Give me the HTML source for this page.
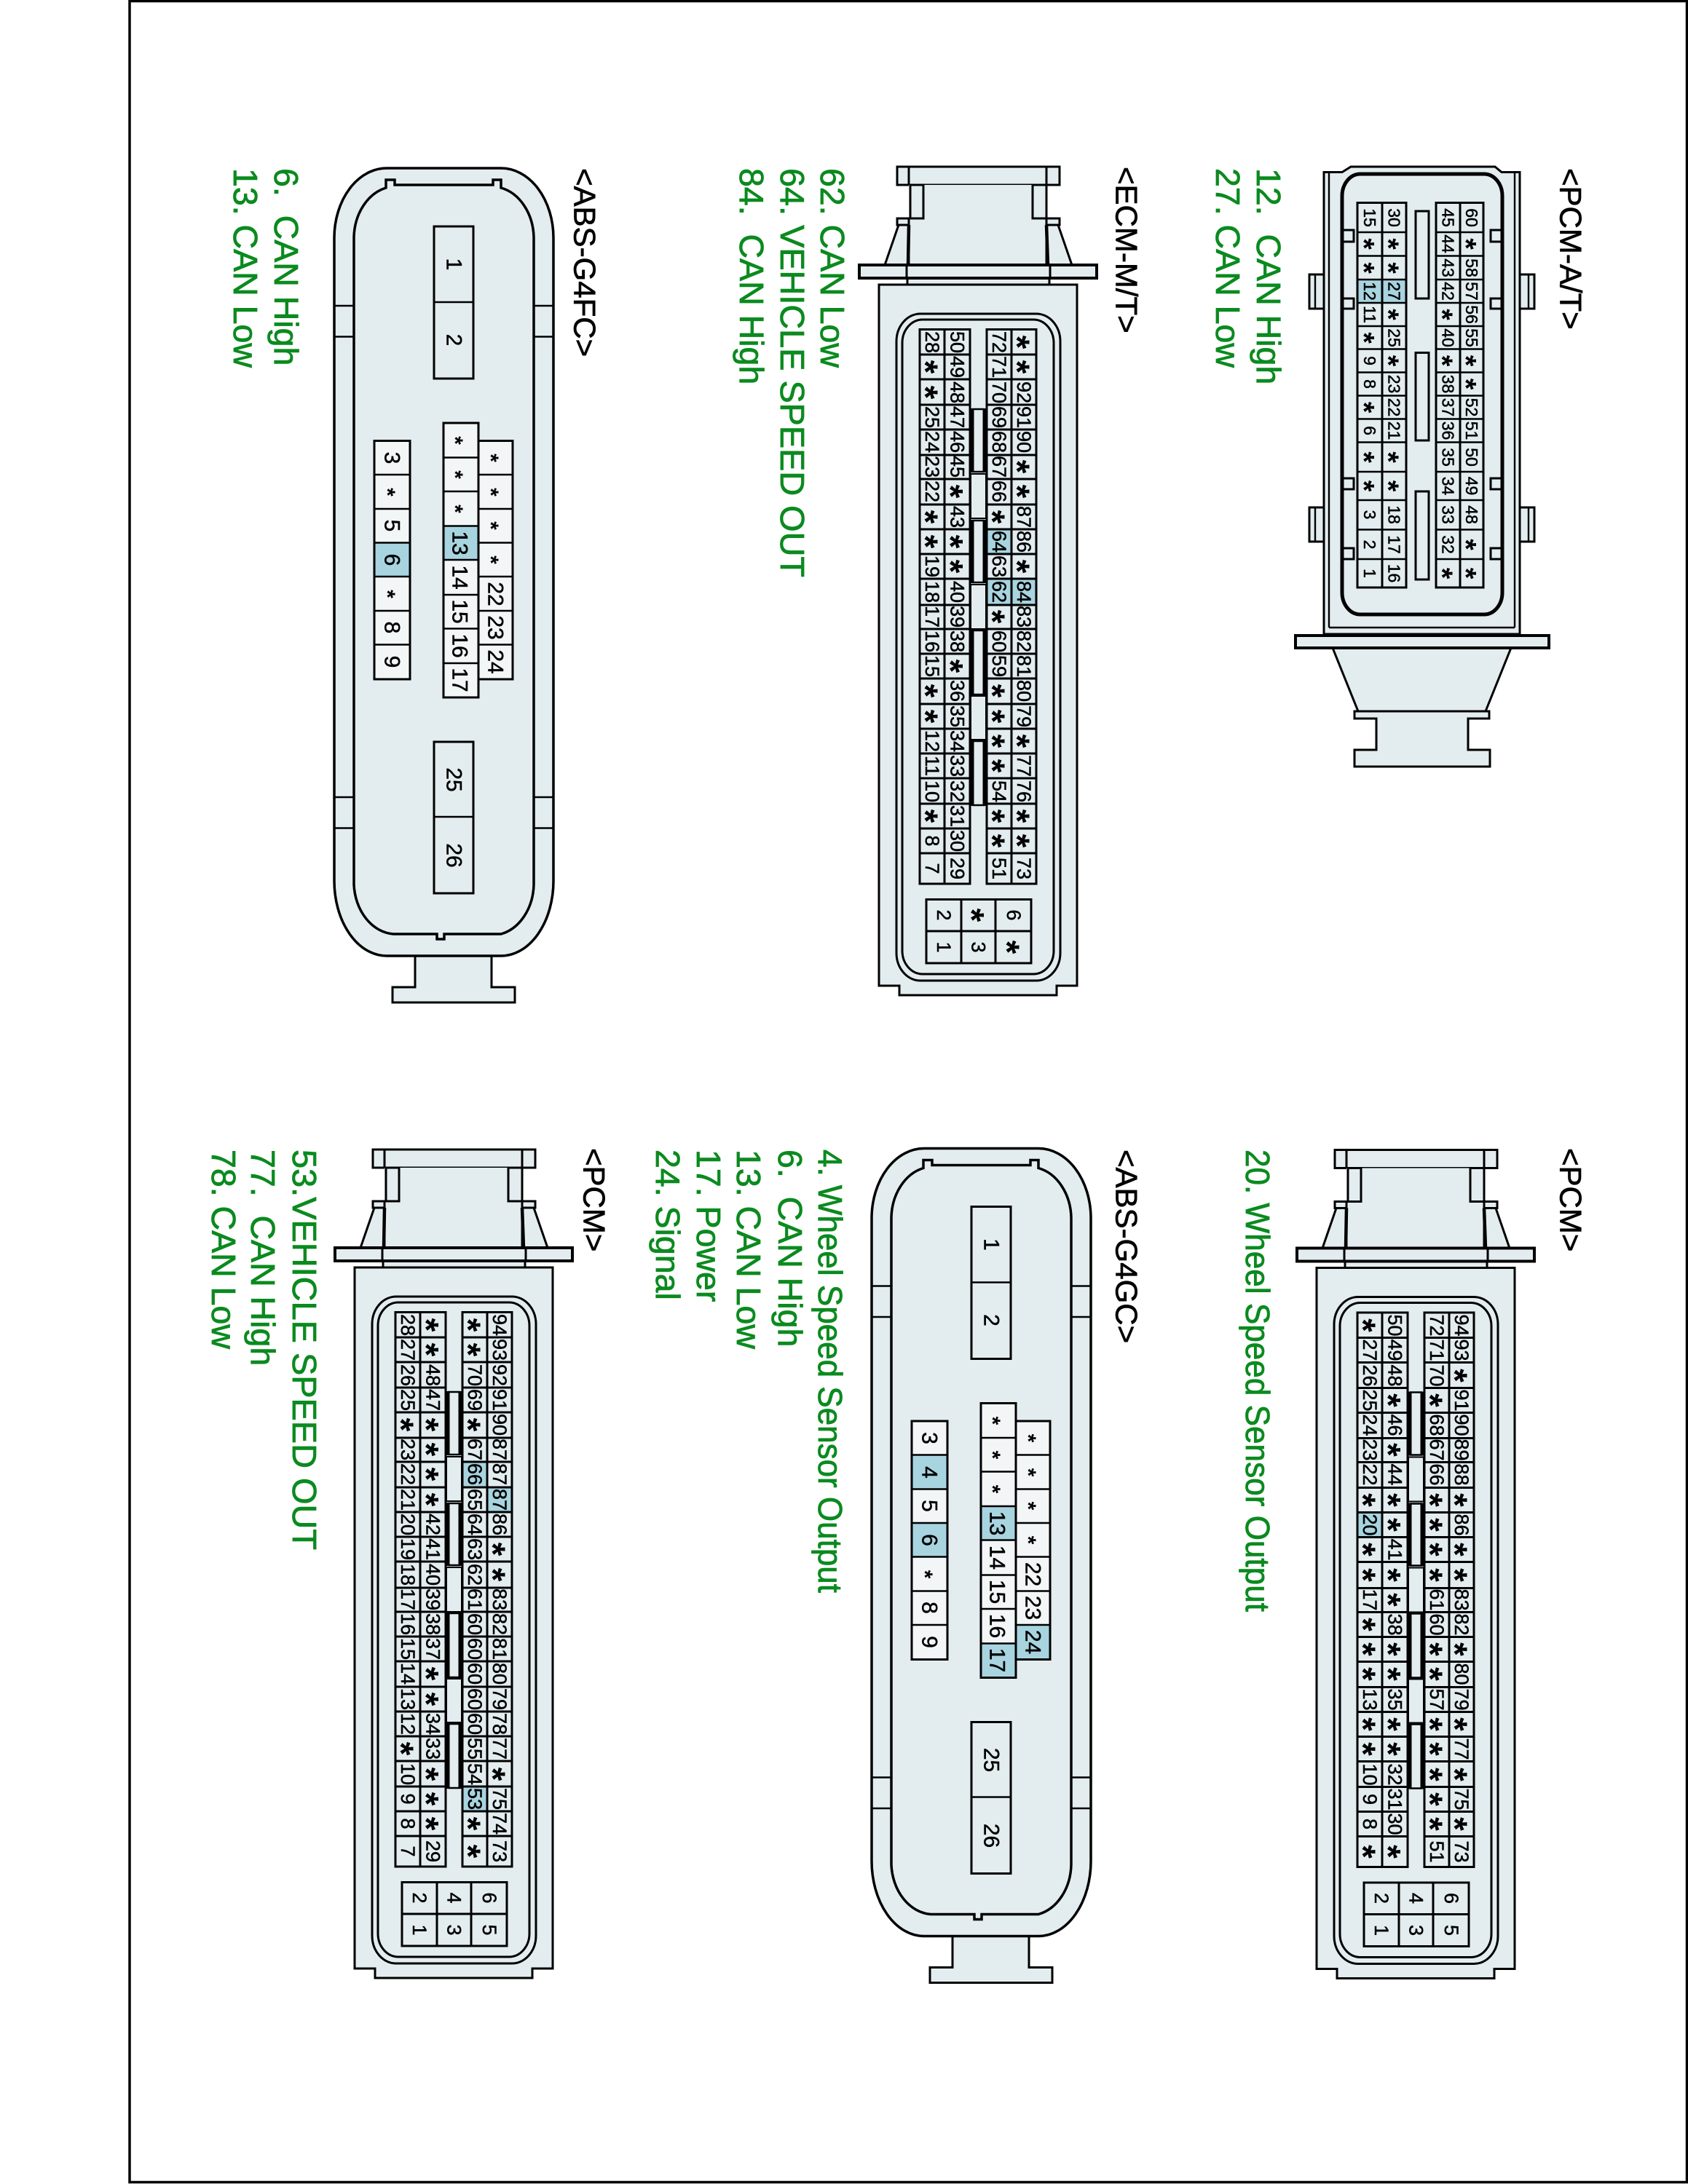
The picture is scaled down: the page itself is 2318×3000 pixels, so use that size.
<!DOCTYPE html>
<html><head><meta charset="utf-8"><title>Connector diagram</title>
<style>
html,body{margin:0;padding:0;background:#fff}
svg{display:block}
text{font-family:"Liberation Sans",sans-serif;text-anchor:middle;dominant-baseline:central;fill:#000;stroke:#000;stroke-width:.5}
.s{font-weight:bold;transform:translateY(.21em);stroke-width:0}
.a{font-size:23px}.a .s{font-size:40px}
.e{font-size:27px}.e .s{font-size:48px}
.b{font-size:30px}.b .s{font-size:30px}
text.L{font-size:46.5px;text-anchor:start;fill:#0b8a1f;stroke:#0b8a1f;stroke-width:.8;white-space:pre}
text.H{font-size:42px;text-anchor:start;fill:#000;stroke-width:.7}
.f{fill:#e3edf0;stroke:#000;stroke-width:3}
.n{fill:none;stroke:#000;stroke-width:3}
.t{fill:none;stroke:#000;stroke-width:2.4}
.k{fill:none;stroke:#000;stroke-width:5}
.h{fill:#a8d4e0}
.w{fill:#f3f6f6;stroke:#000;stroke-width:3}
</style></head><body>
<svg xmlns="http://www.w3.org/2000/svg" width="2318" height="3000" viewBox="0 0 2318 3000">
<defs>
<g id="eb">
<rect class="f" x="1232" y="229" width="223" height="25"/>
<rect x="1248" y="254" width="189" height="110" fill="#e3edf0"/>
<path class="n" d="M1248 229V254M1437 229V254"/>
<rect class="f" x="1250" y="254" width="18" height="46"/>
<rect class="f" x="1418" y="254" width="19" height="46"/>
<rect class="f" x="1232" y="300" width="16" height="9"/>
<rect class="f" x="1437" y="300" width="18" height="9"/>
<path class="f" d="M1234 309L1215 364H1248V309Z"/>
<path class="f" d="M1453 309L1472 364H1437V309Z"/>
<path class="n" style="stroke-width:4.5" d="M1248 309L1247 364M1437 309L1439 364"/>
<rect class="f" x="1246" y="382" width="195" height="10"/>
<rect class="f" x="1180" y="364" width="326" height="18" style="stroke-width:4"/>
<path class="n" d="M1245 364V382M1442 364V382"/>
<path class="f" d="M1207 391H1479V1354H1451V1367H1235V1354H1207Z"/>
<rect class="n" x="1231" y="431" width="225" height="916" rx="33" ry="38"/>
<rect class="n" x="1239" y="439" width="208" height="899" rx="28" ry="32"/>
</g>
<g id="eg">
<rect class="n" x="1263" y="452.5" width="69" height="761.5"/>
<rect class="n" x="1355" y="452.5" width="68" height="761.5"/>
<path class="n" d="M1297 452V1214M1389 452V1214M1263 487H1332M1355 487H1423M1263 521H1332M1355 521H1423M1263 556H1332M1355 556H1423M1263 590H1332M1355 590H1423M1263 625H1332M1355 625H1423M1263 658H1332M1355 658H1423M1263 693H1332M1355 693H1423M1263 727H1332M1355 727H1423M1263 761H1332M1355 761H1423M1263 795H1332M1355 795H1423M1263 831H1332M1355 831H1423M1263 864H1332M1355 864H1423M1263 898H1332M1355 898H1423M1263 932H1332M1355 932H1423M1263 967H1332M1355 967H1423M1263 1001H1332M1355 1001H1423M1263 1035H1332M1355 1035H1423M1263 1069H1332M1355 1069H1423M1263 1104H1332M1355 1104H1423M1263 1138H1332M1355 1138H1423M1263 1172H1332M1355 1172H1423"/>
<path class="t" fill="#e3edf0" d="M1335 562H1352M1335 648H1352M1335 715H1352M1335 800H1352M1335 866H1352M1335 954H1352M1335 1018H1352M1335 1106H1352"/>
<path class="k" d="M1335 561V649M1352 561V649M1335 714V801M1352 714V801M1335 865V955M1352 865V955M1335 1017V1107M1352 1017V1107"/>
<rect x="1333" y="651" width="21" height="61" fill="#e3edf0" stroke="#000" stroke-width="2"/>
<rect x="1333" y="803" width="21" height="61" fill="#e3edf0" stroke="#000" stroke-width="2"/>
<rect x="1333" y="956" width="21" height="60" fill="#e3edf0" stroke="#000" stroke-width="2"/>
<rect class="n" x="1272" y="1235.5" width="144" height="87.5"/>
<path class="n" d="M1320 1235V1323M1367 1235V1323M1272 1279H1416"/>
</g>
<g id="ab">
<path class="f" d="M570 1310H675V1356H707V1377H539V1356H570Z"/>
<path class="f" style="stroke-width:3.5" d="M459 326A72 96 0 0 1 531 231H688A72 96 0 0 1 760 326V1210A72 103 0 0 1 688 1313H531A72 103 0 0 1 459 1210Z"/>
<path class="n" style="stroke-width:3.5" d="M486 326A58 72 0 0 1 530 258V247H542V254H677V247H688V258A58 72 0 0 1 733 326V1215A58 72 0 0 1 688 1283H610V1290H602H600V1283H540A58 72 0 0 1 486 1215Z"/>
<path class="t" d="M459 420H486M459 462.5H486M459 1095H486M459 1137.5H486M733 420H760M733 462.5H760M733 1095H760M733 1137.5H760"/>
<rect class="f" x="596" y="311" width="54" height="209"/>
<path class="t" d="M596 415H650"/>
<rect class="f" x="596" y="1019" width="54" height="208"/>
<path class="t" d="M596 1122H650"/>
<rect class="w" x="514" y="605.5" width="49" height="327.5"/>
<rect class="w" x="609" y="581" width="48" height="377"/>
<rect class="w" x="657" y="605.5" width="47" height="327.5"/>
</g>
<g id="al">
<path class="n" d="M514 605.5V933H563V605.5H514ZM609 581V958H657V581H609ZM657 605.5H704V933H657"/>
<path class="t" d="M514 652H563M514 699H563M514 745.5H563M514 792H563M514 839H563M514 885.5H563M609 628.5H657M609 675H657M609 722.5H657M609 769H657M609 817H657M609 863.5H657M609 911H657M657 652H704M657 699H704M657 745.5H704M657 792H704M657 839H704M657 885.5H704"/>
</g>
<g id="ax" class="b">
<g transform="translate(623 0) rotate(90)"><text x="363">1</text><text x="467">2</text><text x="1071">25</text><text x="1175">26</text></g>
<g transform="translate(631 0) rotate(90)"><text x="605" class="s">*</text><text x="652" class="s">*</text><text x="699" class="s">*</text><text x="746">13</text><text x="793">14</text><text x="840">15</text><text x="887">16</text><text x="934">17</text></g>
<g transform="translate(680 0) rotate(90)"><text x="629" class="s">*</text><text x="676" class="s">*</text><text x="722" class="s">*</text><text x="769" class="s">*</text><text x="816">22</text><text x="862">23</text><text x="909">24</text></g>
</g>
</defs>

<rect x="178" y="1.5" width="2138.5" height="2996" fill="#fff" stroke="#000" stroke-width="3.5"/>

<!-- PCM-A/T -->
<path class="f" d="M1830 890H2075L2040 977H1865Z"/>
<path class="f" d="M1860 977H2045V987H2016V1030H2046V1053H1860V1030H1890V987H1860Z"/>
<rect class="f" x="1798" y="377" width="27" height="47"/><rect class="f" x="1798" y="697" width="27" height="47"/>
<rect class="f" x="2082" y="377" width="25" height="47"/><rect class="f" x="2082" y="697" width="25" height="47"/>
<path class="t" d="M1806 377V424M1806 697V744M2099 377V424M2099 697V744"/>
<path class="f" d="M1818 236.5H1843L1855 229H2053L2062 236.5H2087V871H1818Z"/>
<path class="t" d="M1825 238V862M2080 238V862M1825 862H2080"/>
<rect class="f" x="1779" y="873" width="348" height="17" style="stroke-width:4"/>
<rect class="n" style="stroke-width:5" x="1843" y="239" width="220" height="605" rx="25" ry="30"/>
<g class="f"><rect x="1844" y="316" width="15" height="16"/><rect x="1844" y="410" width="15" height="14"/><rect x="1844" y="657" width="15" height="15"/><rect x="1844" y="753" width="15" height="15"/><rect x="2047" y="316" width="15" height="16"/><rect x="2047" y="410" width="15" height="14"/><rect x="2047" y="657" width="15" height="15"/><rect x="2047" y="753" width="15" height="15"/></g>
<g class="f"><rect x="1944" y="290" width="18" height="120"/><rect x="1944" y="484.5" width="18" height="120.5"/><rect x="1944" y="675" width="18" height="121"/></g>
<rect class="h" x="1864" y="384" width="67" height="32"/>
<path class="n" d="M1864 278.5H1931V807H1864ZM1972 278.5H2037V807H1972ZM1898 278V807M2005 278V807"/>
<path class="t" d="M1864 319H1931M1972 319H2037M1864 351.5H1931M1972 351.5H2037M1864 384H1931M1972 384H2037M1864 416H1931M1972 416H2037M1864 448H1931M1972 448H2037M1864 479.5H1931M1972 479.5H2037M1864 511.5H1931M1972 511.5H2037M1864 543.5H1931M1972 543.5H2037M1864 575.5H1931M1972 575.5H2037M1864 607.5H1931M1972 607.5H2037M1864 648H1931M1972 648H2037M1864 687H1931M1972 687H2037M1864 727.5H1931M1972 727.5H2037M1864 768H1931M1972 768H2037"/>
<g class="a">
<g transform="translate(2021 0) rotate(90)"><text x="299">60</text><text x="335" class="s">*</text><text x="368">58</text><text x="400">57</text><text x="432">56</text><text x="464">55</text><text x="495.5" class="s">*</text><text x="527.5" class="s">*</text><text x="559.5">52</text><text x="591.5">51</text><text x="628">50</text><text x="667.5">49</text><text x="707">48</text><text x="748" class="s">*</text><text x="787.5" class="s">*</text></g>
<g transform="translate(1988.5 0) rotate(90)"><text x="299">45</text><text x="335">44</text><text x="368">43</text><text x="400">42</text><text x="432" class="s">*</text><text x="464">40</text><text x="495.5" class="s">*</text><text x="527.5">38</text><text x="559.5">37</text><text x="591.5">36</text><text x="628">35</text><text x="667.5">34</text><text x="707">33</text><text x="748">32</text><text x="787.5" class="s">*</text></g>
<g transform="translate(1914.5 0) rotate(90)"><text x="299">30</text><text x="335" class="s">*</text><text x="368" class="s">*</text><text x="400">27</text><text x="432" class="s">*</text><text x="464">25</text><text x="495.5" class="s">*</text><text x="527.5">23</text><text x="559.5">22</text><text x="591.5">21</text><text x="628" class="s">*</text><text x="667.5" class="s">*</text><text x="707">18</text><text x="748">17</text><text x="787.5">16</text></g>
<g transform="translate(1881 0) rotate(90)"><text x="299">15</text><text x="335" class="s">*</text><text x="368" class="s">*</text><text x="400">12</text><text x="432">11</text><text x="464" class="s">*</text><text x="495.5">9</text><text x="527.5">8</text><text x="559.5" class="s">*</text><text x="591.5">6</text><text x="628" class="s">*</text><text x="667.5" class="s">*</text><text x="707">3</text><text x="748">2</text><text x="787.5">1</text></g>
</g>
<text class="H" transform="translate(2157 231) rotate(90)">&lt;PCM-A/T&gt;</text>
<text class="L" transform="translate(1742 231) rotate(90)">12.  CAN High</text>
<text class="L" transform="translate(1686 231) rotate(90)">27. CAN Low</text>

<!-- ECM-M/T -->
<use href="#eb"/>
<rect class="h" x="1355" y="727" width="34" height="34"/><rect class="h" x="1355" y="795" width="34" height="36"/><rect class="h" x="1389" y="795" width="34" height="36"/>
<use href="#eg"/>
<g class="e">
<g transform="translate(1406 0) rotate(90)"><text x="470" class="s">*</text><text x="504" class="s">*</text><text x="539">92</text><text x="573">91</text><text x="607">90</text><text x="641" class="s">*</text><text x="675" class="s">*</text><text x="710">87</text><text x="744">86</text><text x="778" class="s">*</text><text x="813">84</text><text x="847">83</text><text x="881">82</text><text x="915">81</text><text x="949">80</text><text x="984">79</text><text x="1018" class="s">*</text><text x="1052">77</text><text x="1087">76</text><text x="1121" class="s">*</text><text x="1155" class="s">*</text><text x="1193">73</text></g>
<g transform="translate(1372 0) rotate(90)"><text x="470">72</text><text x="504">71</text><text x="539">70</text><text x="573">69</text><text x="607">68</text><text x="641">67</text><text x="675">66</text><text x="710" class="s">*</text><text x="744">64</text><text x="778">63</text><text x="813">62</text><text x="847" class="s">*</text><text x="881">60</text><text x="915">59</text><text x="949" class="s">*</text><text x="984" class="s">*</text><text x="1018" class="s">*</text><text x="1052" class="s">*</text><text x="1087">54</text><text x="1121" class="s">*</text><text x="1155" class="s">*</text><text x="1193">51</text></g>
<g transform="translate(1314.5 0) rotate(90)"><text x="470">50</text><text x="504">49</text><text x="539">48</text><text x="573">47</text><text x="607">46</text><text x="641">45</text><text x="675" class="s">*</text><text x="710">43</text><text x="744" class="s">*</text><text x="778" class="s">*</text><text x="813">40</text><text x="847">39</text><text x="881">38</text><text x="915" class="s">*</text><text x="949">36</text><text x="984">35</text><text x="1018">34</text><text x="1052">33</text><text x="1087">32</text><text x="1121">31</text><text x="1155">30</text><text x="1193">29</text></g>
<g transform="translate(1280 0) rotate(90)"><text x="470">28</text><text x="504" class="s">*</text><text x="539" class="s">*</text><text x="573">25</text><text x="607">24</text><text x="641">23</text><text x="675">22</text><text x="710" class="s">*</text><text x="744" class="s">*</text><text x="778">19</text><text x="813">18</text><text x="847">17</text><text x="881">16</text><text x="915">15</text><text x="949" class="s">*</text><text x="984" class="s">*</text><text x="1018">12</text><text x="1052">11</text><text x="1087">10</text><text x="1121" class="s">*</text><text x="1155">8</text><text x="1193">7</text></g>
<g transform="translate(1296 0) rotate(90)"><text x="1257">2</text><text x="1301">1</text></g>
<g transform="translate(1343.5 0) rotate(90)"><text x="1257" class="s">*</text><text x="1301">3</text></g>
<g transform="translate(1392 0) rotate(90)"><text x="1257">6</text><text x="1301" class="s">*</text></g>
</g>
<text class="H" transform="translate(1547 229) rotate(90)">&lt;ECM-M/T&gt;</text>
<text class="L" transform="translate(1143 231) rotate(90)">62. CAN Low</text>
<text class="L" transform="translate(1088 231) rotate(90)" textLength="562" lengthAdjust="spacingAndGlyphs">64. VEHICLE SPEED OUT</text>
<text class="L" transform="translate(1032 231) rotate(90)">84.  CAN High</text>

<!-- ABS-G4FC -->
<use href="#ab"/>
<rect class="h" x="514" y="745.5" width="49" height="46.5"/><rect class="h" x="609" y="722.5" width="48" height="46.5"/>
<use href="#al"/>
<use href="#ax"/>
<g class="b" transform="translate(538 0) rotate(90)"><text x="629">3</text><text x="676" class="s">*</text><text x="722">5</text><text x="769">6</text><text x="816" class="s">*</text><text x="862">8</text><text x="909">9</text></g>
<text class="H" transform="translate(803 231) rotate(90)">&lt;ABS-G4FC&gt;</text>
<text class="L" transform="translate(393 231) rotate(90)">6.  CAN High</text>
<text class="L" transform="translate(337 231) rotate(90)">13. CAN Low</text>

<!-- PCM right -->
<g transform="translate(601 1350.5)">
<use href="#eb"/>
<rect class="h" x="1263" y="727" width="34" height="34"/>
<use href="#eg"/>
<g class="e">
<g transform="translate(1406 0) rotate(90)"><text x="470">94</text><text x="504">93</text><text x="539" class="s">*</text><text x="573">91</text><text x="607">90</text><text x="641">89</text><text x="675">88</text><text x="710" class="s">*</text><text x="744">86</text><text x="778" class="s">*</text><text x="813" class="s">*</text><text x="847">83</text><text x="881">82</text><text x="915" class="s">*</text><text x="949">80</text><text x="984">79</text><text x="1018" class="s">*</text><text x="1052">77</text><text x="1087" class="s">*</text><text x="1121">75</text><text x="1155" class="s">*</text><text x="1193">73</text></g>
<g transform="translate(1372 0) rotate(90)"><text x="470">72</text><text x="504">71</text><text x="539">70</text><text x="573" class="s">*</text><text x="607">68</text><text x="641">67</text><text x="675">66</text><text x="710" class="s">*</text><text x="744" class="s">*</text><text x="778" class="s">*</text><text x="813" class="s">*</text><text x="847">61</text><text x="881">60</text><text x="915" class="s">*</text><text x="949" class="s">*</text><text x="984">57</text><text x="1018" class="s">*</text><text x="1052" class="s">*</text><text x="1087" class="s">*</text><text x="1121" class="s">*</text><text x="1155" class="s">*</text><text x="1193">51</text></g>
<g transform="translate(1314.5 0) rotate(90)"><text x="470">50</text><text x="504">49</text><text x="539">48</text><text x="573" class="s">*</text><text x="607">46</text><text x="641" class="s">*</text><text x="675">44</text><text x="710" class="s">*</text><text x="744" class="s">*</text><text x="778">41</text><text x="813" class="s">*</text><text x="847" class="s">*</text><text x="881">38</text><text x="915" class="s">*</text><text x="949" class="s">*</text><text x="984">35</text><text x="1018" class="s">*</text><text x="1052" class="s">*</text><text x="1087">32</text><text x="1121">31</text><text x="1155">30</text><text x="1193" class="s">*</text></g>
<g transform="translate(1280 0) rotate(90)"><text x="470" class="s">*</text><text x="504">27</text><text x="539">26</text><text x="573">25</text><text x="607">24</text><text x="641">23</text><text x="675">22</text><text x="710" class="s">*</text><text x="744">20</text><text x="778" class="s">*</text><text x="813" class="s">*</text><text x="847">17</text><text x="881" class="s">*</text><text x="915" class="s">*</text><text x="949" class="s">*</text><text x="984">13</text><text x="1018" class="s">*</text><text x="1052" class="s">*</text><text x="1087">10</text><text x="1121">9</text><text x="1155">8</text><text x="1193" class="s">*</text></g>
<g transform="translate(1296 0) rotate(90)"><text x="1257">2</text><text x="1301">1</text></g>
<g transform="translate(1343.5 0) rotate(90)"><text x="1257">4</text><text x="1301">3</text></g>
<g transform="translate(1392 0) rotate(90)"><text x="1257">6</text><text x="1301">5</text></g>
</g>
</g>
<text class="H" transform="translate(2157 1577) rotate(90)">&lt;PCM&gt;</text>
<text class="L" transform="translate(1727 1579) rotate(90)" textLength="635" lengthAdjust="spacingAndGlyphs">20. Wheel Speed Sensor Output</text>

<!-- ABS-G4GC -->
<g transform="translate(738 1346.5)">
<use href="#ab"/>
<rect class="h" x="514" y="652" width="49" height="47"/><rect class="h" x="514" y="745.5" width="49" height="46.5"/><rect class="h" x="609" y="722.5" width="48" height="46.5"/><rect class="h" x="609" y="911" width="48" height="47"/><rect class="h" x="657" y="885.5" width="47" height="47.5"/>
<use href="#al"/>
<use href="#ax"/>
<g class="b" transform="translate(538 0) rotate(90)"><text x="629">3</text><text x="676">4</text><text x="722">5</text><text x="769">6</text><text x="816" class="s">*</text><text x="862">8</text><text x="909">9</text></g>
</g>
<text class="H" transform="translate(1547 1579) rotate(90)">&lt;ABS-G4GC&gt;</text>
<text class="L" transform="translate(1140 1579) rotate(90)" textLength="609" lengthAdjust="spacingAndGlyphs">4. Wheel Speed Sensor Output</text>
<text class="L" transform="translate(1085 1579) rotate(90)">6.  CAN High</text>
<text class="L" transform="translate(1028 1579) rotate(90)">13. CAN Low</text>
<text class="L" transform="translate(973 1579) rotate(90)">17. Power</text>
<text class="L" transform="translate(917 1579) rotate(90)">24. Signal</text>

<!-- PCM left -->
<g transform="translate(-720 1350)">
<use href="#eb"/>
<rect class="h" x="1355" y="658" width="34" height="35"/><rect class="h" x="1389" y="693" width="34" height="34"/><rect class="h" x="1355" y="1104" width="34" height="34"/>
<use href="#eg"/>
<g class="e">
<g transform="translate(1406 0) rotate(90)"><text x="470">94</text><text x="504">93</text><text x="539">92</text><text x="573">91</text><text x="607">90</text><text x="641">87</text><text x="675">87</text><text x="710">87</text><text x="744">86</text><text x="778" class="s">*</text><text x="813" class="s">*</text><text x="847">83</text><text x="881">82</text><text x="915">81</text><text x="949">80</text><text x="984">79</text><text x="1018">78</text><text x="1052">77</text><text x="1087" class="s">*</text><text x="1121">75</text><text x="1155">74</text><text x="1193">73</text></g>
<g transform="translate(1372 0) rotate(90)"><text x="470" class="s">*</text><text x="504" class="s">*</text><text x="539">70</text><text x="573">69</text><text x="607" class="s">*</text><text x="641">67</text><text x="675">66</text><text x="710">65</text><text x="744">64</text><text x="778">63</text><text x="813">62</text><text x="847">61</text><text x="881">60</text><text x="915">60</text><text x="949">60</text><text x="984">60</text><text x="1018">60</text><text x="1052">55</text><text x="1087">54</text><text x="1121">53</text><text x="1155" class="s">*</text><text x="1193" class="s">*</text></g>
<g transform="translate(1314.5 0) rotate(90)"><text x="470" class="s">*</text><text x="504" class="s">*</text><text x="539">48</text><text x="573">47</text><text x="607" class="s">*</text><text x="641" class="s">*</text><text x="675" class="s">*</text><text x="710" class="s">*</text><text x="744">42</text><text x="778">41</text><text x="813">40</text><text x="847">39</text><text x="881">38</text><text x="915">37</text><text x="949" class="s">*</text><text x="984" class="s">*</text><text x="1018">34</text><text x="1052">33</text><text x="1087" class="s">*</text><text x="1121" class="s">*</text><text x="1155" class="s">*</text><text x="1193">29</text></g>
<g transform="translate(1280 0) rotate(90)"><text x="470">28</text><text x="504">27</text><text x="539">26</text><text x="573">25</text><text x="607" class="s">*</text><text x="641">23</text><text x="675">22</text><text x="710">21</text><text x="744">20</text><text x="778">19</text><text x="813">18</text><text x="847">17</text><text x="881">16</text><text x="915">15</text><text x="949">14</text><text x="984">13</text><text x="1018">12</text><text x="1052" class="s">*</text><text x="1087">10</text><text x="1121">9</text><text x="1155">8</text><text x="1193">7</text></g>
<g transform="translate(1296 0) rotate(90)"><text x="1257">2</text><text x="1301">1</text></g>
<g transform="translate(1343.5 0) rotate(90)"><text x="1257">4</text><text x="1301">3</text></g>
<g transform="translate(1392 0) rotate(90)"><text x="1257">6</text><text x="1301">5</text></g>
</g>
</g>
<text class="H" transform="translate(816 1577) rotate(90)">&lt;PCM&gt;</text>
<text class="L" transform="translate(418 1579) rotate(90)" textLength="550" lengthAdjust="spacingAndGlyphs">53.VEHICLE SPEED OUT</text>
<text class="L" transform="translate(361 1579) rotate(90)">77.  CAN High</text>
<text class="L" transform="translate(307 1579) rotate(90)">78. CAN Low</text>
</svg>
</body></html>
